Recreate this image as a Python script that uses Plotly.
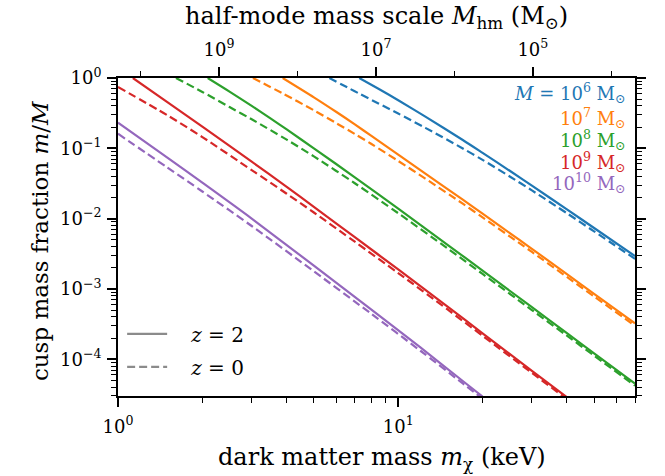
import plotly.graph_objects as go

# Cusp mass fraction m/M versus dark matter particle mass, for halo masses
# M = 1e6 ... 1e10 Msun, at redshift z = 2 (solid) and z = 0 (dashed).

# ---- M = 1e6 Msun ----
m_1e6_z2 = [7.26, 8.5, 10, 12.5, 17, 20, 25, 30, 40, 50, 70]
f_1e6_z2 = [1.0, 0.703, 0.483, 0.2825, 0.1312, 0.0861, 0.0479, 0.02944, 0.01352, 0.00736, 0.00293]
m_1e6_z0 = [5.68, 6.7, 7.26, 8.5, 10, 12.5, 17, 20, 25, 30, 40, 50, 70]
f_1e6_z0 = [1.0, 0.708, 0.600, 0.4345, 0.312, 0.1954, 0.0995, 0.0684, 0.0398, 0.02518, 0.01191, 0.00659, 0.002673]

# ---- M = 1e7 Msun ----
m_1e7_z2 = [3.87, 5, 6, 7, 8, 10, 12.5, 17, 20, 27, 30, 40, 50, 70]
f_1e7_z2 = [1.0, 0.531, 0.331, 0.219, 0.151, 0.0813, 0.0437, 0.0186, 0.01175, 0.00501, 0.00372, 0.00162, 8.51e-4, 3.24e-4]
m_1e7_z0 = [3.03, 3.87, 5, 6, 7, 8, 10, 12.5, 17, 20, 27, 30, 40, 50, 70]
f_1e7_z0 = [1.0, 0.603, 0.347, 0.229, 0.160, 0.116, 0.0661, 0.037, 0.0163, 0.01042, 0.00451, 0.00336, 0.00148, 7.82e-4, 2.99e-4]

# ---- M = 1e8 Msun ----
m_1e8_z2 = [2.09, 2.5, 3, 3.5, 4, 5, 7, 10, 15, 20, 30, 40, 50, 70]
f_1e8_z2 = [1.0, 0.641, 0.401, 0.2667, 0.1854, 0.100, 0.0387, 0.01387, 0.004246, 0.001816, 5.5e-4, 2.35e-4, 1.216e-4, 4.51e-5]
m_1e8_z0 = [1.61, 2, 2.5, 3, 4, 5, 7, 10, 15, 20, 30, 40, 50, 70]
f_1e8_z0 = [1.0, 0.634, 0.3864, 0.2588, 0.1327, 0.0767, 0.03184, 0.01194, 0.003767, 0.001633, 5.01e-4, 2.163e-4, 1.125e-4, 4.21e-5]

# ---- M = 1e9 Msun ----
m_1e9_z2 = [1.13, 1.5, 2, 3, 4, 5, 7, 10, 15, 20, 30, 40]
f_1e9_z2 = [1.0, 0.455, 0.203, 0.0646, 0.0282, 0.0147, 0.00544, 0.00189, 5.6e-4, 2.34e-4, 6.84e-5, 2.88e-5]
m_1e9_z0 = [1, 1.5, 2, 3, 4, 5, 7, 10, 15, 20, 30, 40]
f_1e9_z0 = [0.745, 0.295, 0.1445, 0.049, 0.0226, 0.01222, 0.00469, 0.00168, 5.1e-4, 2.16e-4, 6.38e-5, 2.72e-5]

# ---- M = 1e10 Msun ----
m_1e10_z2 = [1, 1.5, 2, 3, 5, 8, 12, 17, 20]
f_1e10_z2 = [0.231, 0.0736, 0.0324, 0.0100, 0.00214, 5.1e-4, 1.47e-4, 4.9e-5, 2.95e-5]
m_1e10_z0 = [1, 1.5, 2, 3, 5, 8, 12, 17, 20]
f_1e10_z0 = [0.161, 0.0533, 0.0243, 0.00785, 0.00178, 4.45e-4, 1.32e-4, 4.52e-5, 2.75e-5]

halo_labels = ["<i>M</i> = 10<sup>6</sup> M<sub>⊙</sub>",
               "10<sup>7</sup> M<sub>⊙</sub>",
               "10<sup>8</sup> M<sub>⊙</sub>",
               "10<sup>9</sup> M<sub>⊙</sub>",
               "10<sup>10</sup> M<sub>⊙</sub>"]
colors = ["#1f77b4", "#ff7f0e", "#2ca02c", "#d62728", "#9467bd"]

series = [
    (m_1e6_z2, f_1e6_z2, m_1e6_z0, f_1e6_z0),
    (m_1e7_z2, f_1e7_z2, m_1e7_z0, f_1e7_z0),
    (m_1e8_z2, f_1e8_z2, m_1e8_z0, f_1e8_z0),
    (m_1e9_z2, f_1e9_z2, m_1e9_z0, f_1e9_z0),
    (m_1e10_z2, f_1e10_z2, m_1e10_z0, f_1e10_z0),
]

# axis ticks
x_major = [1, 10]
x_major_text = ["10<sup>0</sup>", "10<sup>1</sup>"]
x_minor = [2, 3, 4, 5, 6, 7, 8, 9, 20, 30, 40, 50, 60, 70]
y_major = [1, 1e-1, 1e-2, 1e-3, 1e-4]
y_major_text = ["10<sup>0</sup>", "10<sup>−1</sup>", "10<sup>−2</sup>",
                "10<sup>−3</sup>", "10<sup>−4</sup>"]
y_minor = [k * 10.0 ** e for e in (-5, -4, -3, -2, -1) for k in range(2, 10)]
mhm_major = [1e9, 1e7, 1e5]
mhm_major_text = ["10<sup>9</sup>", "10<sup>7</sup>", "10<sup>5</sup>"]
mhm_minor = [1e10, 1e8, 1e6, 1e4]

FONT = "DejaVu Serif"
LW = 2.2
DASH = "8px,4px"
NBSP = "\u00a0"

fig = go.Figure()
for (mx2, f2, mx0, f0), c in zip(series, colors):
    fig.add_trace(go.Scatter(x=mx2, y=f2, mode="lines", showlegend=False,
                             line=dict(color=c, width=LW, shape="spline", smoothing=0.8)))
    fig.add_trace(go.Scatter(x=mx0, y=f0, mode="lines", showlegend=False,
                             line=dict(color=c, width=LW, dash=DASH,
                                       shape="spline", smoothing=0.8)))

# redshift legend entries
legend_gray = "rgba(110,110,110,0.8)"
fig.add_trace(go.Scatter(x=[None], y=[None], mode="lines", legendgroup="z2",
                         name=NBSP * 3 + "<i>z</i> = 2",
                         line=dict(color=legend_gray, width=LW)))
fig.add_trace(go.Scatter(x=[None], y=[None], mode="lines", legendgroup="z0",
                         name=NBSP * 3 + "<i>z</i> = 0",
                         line=dict(color=legend_gray, width=LW, dash=DASH)))

# carrier for the half-mode mass axis
fig.add_trace(go.Scatter(x=[1e7], y=[None], xaxis="x2", mode="lines",
                         showlegend=False, hoverinfo="skip"))

axis_common = dict(showgrid=False, zeroline=False, showline=True, linecolor="black",
                   linewidth=1.8, ticks="outside", tickcolor="black", tickwidth=1.5,
                   ticklen=9, tickfont=dict(family=FONT, size=18, color="black"))
minor_common = dict(tickmode="array", ticks="outside", ticklen=5, tickwidth=1.2,
                    tickcolor="black")

fig.update_layout(
    width=665, height=476,
    margin=dict(l=118, r=30, t=78, b=80),
    paper_bgcolor="white", plot_bgcolor="white",
    xaxis=dict(type="log", range=[0, 1.845], tickmode="array", tickvals=x_major,
               ticktext=x_major_text, mirror=False, ticklabelstandoff=4,
               minor=dict(tickvals=x_minor, **minor_common), **axis_common),
    xaxis2=dict(type="log", overlaying="x", side="top", anchor="y",
                range=[10.288, 3.698], tickmode="array", tickvals=mhm_major,
                ticktext=mhm_major_text, ticklabelstandoff=4,
                minor=dict(tickvals=mhm_minor, **minor_common), **axis_common),
    yaxis=dict(type="log", range=[-4.523, 0], tickmode="array", tickvals=y_major,
               ticktext=y_major_text, mirror="ticks", ticklabelstandoff=2,
               minor=dict(tickvals=y_minor, **minor_common), **axis_common),
    showlegend=True,
    legend=dict(x=0.008, y=0.03, xanchor="left", yanchor="bottom",
                bgcolor="rgba(0,0,0,0)", font=dict(family=FONT, size=20, color="black"),
                itemwidth=40, tracegroupgap=4),
)

# axis titles
fig.add_annotation(text="dark matter mass <i>m</i><sub>χ</sub> (keV)", xref="paper",
                   yref="paper", x=0.51, y=-0.195, yanchor="middle", showarrow=False,
                   font=dict(family=FONT, size=24, color="black"))
fig.add_annotation(text="half-mode mass scale <i>M</i><sub>hm</sub> (M<sub>⊙</sub>)",
                   xref="paper", yref="paper", x=0.5, y=1.19, yanchor="middle",
                   showarrow=False, font=dict(family=FONT, size=24, color="black"))
fig.add_annotation(text="cusp mass fraction <i>m</i>/<i>M</i>", xref="paper",
                   yref="paper", x=-0.18, y=0.49, textangle=-90, showarrow=False,
                   font=dict(family=FONT, size=23, color="black"))

# halo-mass labels
label_y = [0.953, 0.874, 0.805, 0.736, 0.670]
for txt, c, yy in zip(halo_labels, colors, label_y):
    fig.add_annotation(text=txt, xref="paper", yref="paper", x=0.986, y=yy,
                       xanchor="right", yanchor="middle", showarrow=False,
                       font=dict(family=FONT, size=18, color=c))

fig.write_html("out.html")
